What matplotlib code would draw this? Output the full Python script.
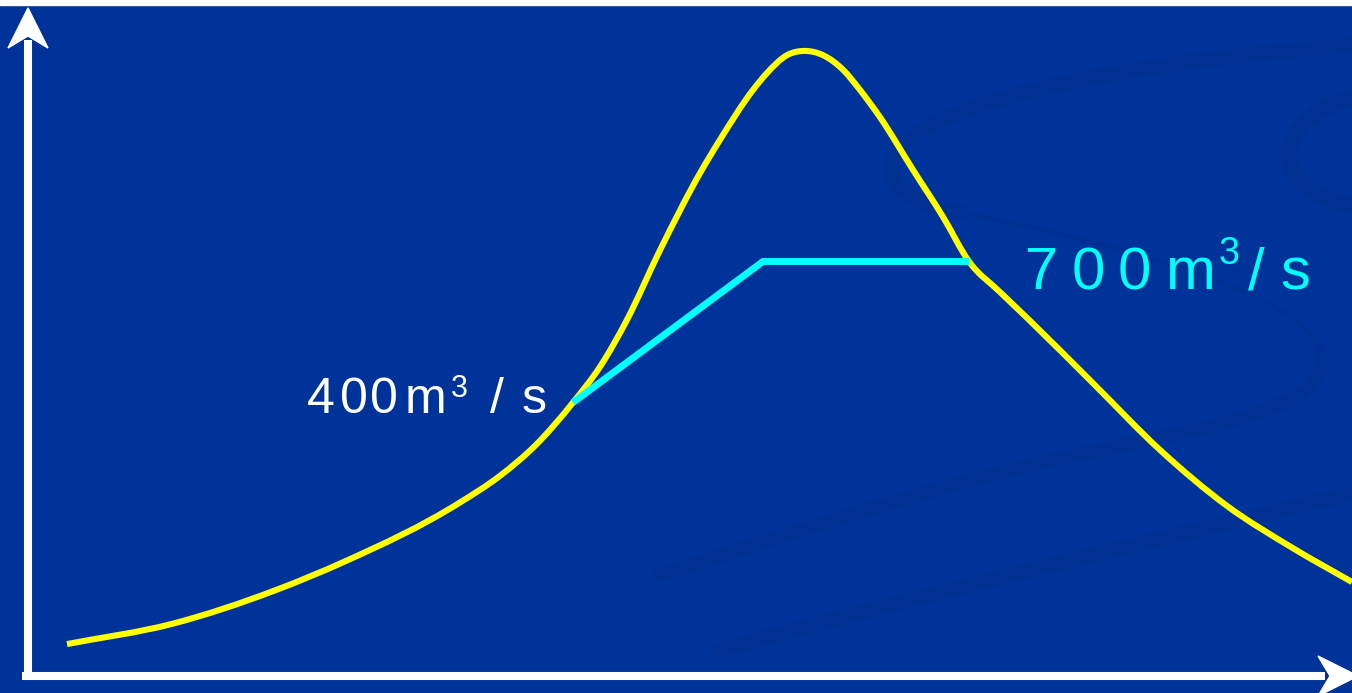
import numpy as np
import matplotlib.pyplot as plt
import matplotlib.transforms as mtransforms
from matplotlib.patches import Polygon, PathPatch
from matplotlib.path import Path

# inflow hydrograph (time, discharge m3/s)
t_in = [3.9, 14.4, 24.8, 31.6, 43.1, 47.2, 50.8, 54.5, 57.2, 59.9, 63.2, 67.2, 69.2,
        72.5, 73.9, 75.9, 77.7, 79.5, 81.5, 83.2, 85.2, 88.5, 91.5, 94.1, 97.2, 99.9,
        106.5, 113.2, 119.9, 126.5, 132.4]
q_in = [-114, -71, 1, 61, 186, 244, 310, 400, 476, 576, 724, 888, 959,
        1065, 1101, 1139, 1148, 1139, 1108, 1065, 1007, 895, 795, 700, 635, 580,
        441, 299, 180, 90, 18]

# regulated outflow
t_out = [54.5, 73.5, 94.1]
q_out = [400, 700, 700]

label_low = "400m3/s"
label_high = "700m3/s"

BG = '#003399'
W, H = 1352, 693

fig = plt.figure(figsize=(W / 100, H / 100), dpi=100)
fig.patch.set_facecolor(BG)
ax = fig.add_axes([0, 0, 1, 1])
ax.set_facecolor(BG)
ax.set_xlim(-2.8, 132.4)
ax.set_ylim(-218.1, 1256.4)
ax.axis('off')

# pixel frame, origin top-left
px = mtransforms.Affine2D().scale(1 / 100, -1 / 100).translate(0, H / 100) + fig.dpi_scale_trans


def smooth(x, y):
    # cubic Hermite through the points (x increasing), as Bezier segments
    x = np.asarray(x, float)
    y = np.asarray(y, float)
    h = np.diff(x)
    s = np.diff(y) / h
    d = np.empty_like(y)
    d[0], d[-1] = s[0], s[-1]
    d[1:-1] = (h[1:] * s[:-1] + h[:-1] * s[1:]) / (h[:-1] + h[1:])
    verts, codes = [(x[0], y[0])], [Path.MOVETO]
    for i in range(len(h)):
        verts += [(x[i] + h[i] / 3, y[i] + d[i] * h[i] / 3),
                  (x[i + 1] - h[i] / 3, y[i + 1] - d[i + 1] * h[i] / 3),
                  (x[i + 1], y[i + 1])]
        codes += [Path.CURVE4] * 3
    return Path(verts, codes)


# faint swirl decoration
band = '#003091'
C4 = Path.CURVE4
swirls = [
    ([(1360, 45), (1200, 55), (1000, 85), (925, 128), (870, 160), (880, 198), (960, 212)], 11),
    ([(960, 212), (1100, 240), (1300, 290), (1320, 350)], 3),
    ([(1320, 350), (1335, 400), (1250, 420), (1100, 450), (950, 480), (800, 530), (660, 575)], 10),
    ([(1360, 95), (1300, 110), (1270, 150), (1300, 180), (1320, 200), (1345, 205), (1360, 205)], 12),
    ([(720, 650), (900, 600), (1150, 540), (1360, 492)], 11),
]
for pts, lw in swirls:
    codes = [Path.MOVETO] + [C4] * (len(pts) - 1)
    ax.add_patch(PathPatch(Path(pts, codes), fill=False, edgecolor=band, lw=lw,
                           capstyle='round', transform=px, clip_on=False, zorder=0))

# white strip along the top
ax.add_patch(Polygon([(0, 0), (W, 0), (W, 5), (0, 5)], closed=True, color='white',
                     transform=px, clip_on=False, zorder=1))

# axes with arrowheads
ax.plot([28, 28], [680, 40], color='white', lw=5.8, solid_capstyle='butt', transform=px, zorder=2)
ax.plot([22, 1325], [676, 676], color='white', lw=5.8, solid_capstyle='butt', transform=px, zorder=2)
ax.add_patch(Polygon([(28, 8), (48, 48), (28, 36), (8, 48)], closed=True, color='white',
                     transform=px, clip_on=False, zorder=2))
ax.add_patch(Polygon([(1358, 676), (1318, 656), (1330, 676), (1318, 696)], closed=True,
                     color='white', transform=px, clip_on=False, zorder=2))

# hydrographs
ax.add_patch(PathPatch(smooth(t_in, q_in), fill=False, edgecolor='#FFFF00', lw=4.4,
                       joinstyle='round', capstyle='butt', zorder=3))
ax.plot(t_out, q_out, color='#00FFFF', lw=5.0, solid_joinstyle='miter',
        solid_capstyle='butt', zorder=4)


def spaced(text, lefts, base, size, color, sup):
    # each glyph placed on its own; the exponent digit is set small and raised
    for ch, x in zip(text, lefts):
        if ch == '3':
            ax.text(x, sup[0], ch, transform=px, fontsize=sup[1], color=color,
                    family='Liberation Sans', ha='left', va='baseline', zorder=5)
        else:
            ax.text(x, base, ch, transform=px, fontsize=size, color=color,
                    family='Liberation Sans', ha='left', va='baseline', zorder=5)


spaced(label_low, [307, 340, 370, 405, 451, 490, 522], 413, 36, 'white', (397, 22))
spaced(label_high, [1025, 1072, 1118, 1165, 1219, 1248, 1280], 289, 43, '#00FFFF', (264, 27))

fig.savefig('out.png', dpi=100, facecolor=BG)
